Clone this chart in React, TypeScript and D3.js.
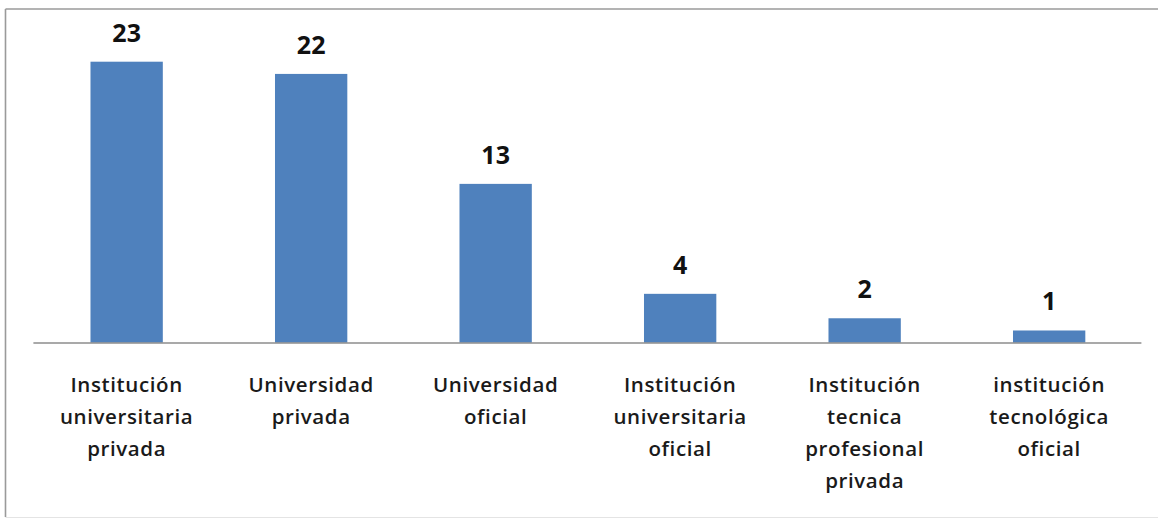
import React from "react";
import * as d3 from "d3";

const categories: string[] = [
  "Institución universitaria privada",
  "Universidad privada",
  "Universidad oficial",
  "Institución universitaria oficial",
  "Institución tecnica profesional privada",
  "institución tecnológica oficial",
];

const categoryLines: string[][] = [
  ["Institución", "universitaria", "privada"],
  ["Universidad", "privada"],
  ["Universidad", "oficial"],
  ["Institución", "universitaria", "oficial"],
  ["Institución", "tecnica", "profesional", "privada"],
  ["institución", "tecnológica", "oficial"],
];

const values: number[] = [23, 22, 13, 4, 2, 1];

const W = 1158;
const H = 519;

export default function App() {
  const x = d3
    .scaleBand<string>()
    .domain(categories)
    .range([34.4, 1141.4])
    .paddingInner(0.608)
    .paddingOuter(0.304);
  const y = d3.scaleLinear().domain([0, 23]).range([342.7, 61.7]);
  const font = "'Open Sans', 'DejaVu Sans', sans-serif";

  return (
    <svg
      width={W}
      height={H}
      style={{ position: "absolute", left: 0, top: 0, background: "#fff" }}
    >
      <rect x={0} y={0} width={W} height={H} fill="#fff" />
      {/* chart border */}
      <line x1={5.5} y1={9} x2={W} y2={9} stroke="#9a9a9a" strokeWidth={1.6} />
      <line x1={5.5} y1={9} x2={5.5} y2={517} stroke="#9a9a9a" strokeWidth={1.6} />
      <line x1={5.5} y1={517.5} x2={W} y2={517.5} stroke="#e4e4e4" strokeWidth={1} />

      {values.map((v, i) => {
        const c = categories[i];
        const bx = x(c)!;
        return (
          <g key={c}>
            <rect
              x={bx}
              y={y(v)}
              width={x.bandwidth()}
              height={y(0) - y(v)}
              fill="#4f81bd"
            />
            <text
              x={bx + x.bandwidth() / 2}
              y={y(v) - 20}
              textAnchor="middle"
              fontFamily={font}
              fontWeight={700}
              fontSize={25}
              fill="#111"
            >
              {v}
            </text>
            <text
              textAnchor="middle"
              fontFamily={font}
              fontWeight={600}
              fontSize={20.5}
              letterSpacing={0.6}
              fill="#1a1a1a"
            >
              {categoryLines[i].map((ln, j) => (
                <tspan key={j} x={bx + x.bandwidth() / 2} y={392 + j * 32}>
                  {ln}
                </tspan>
              ))}
            </text>
          </g>
        );
      })}

      <line
        x1={x.range()[0] - 1}
        x2={x.range()[1]}
        y1={y(0) + 0.3}
        y2={y(0) + 0.3}
        stroke="#8c8c8c"
        strokeWidth={1.5}
      />
    </svg>
  );
}
